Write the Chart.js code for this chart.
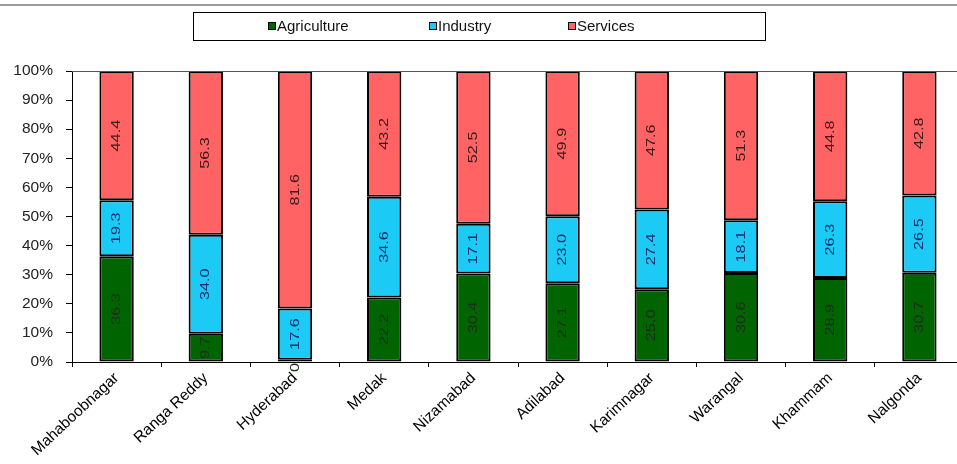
<!DOCTYPE html>
<html>
<head>
<meta charset="utf-8">
<script src="https://cdn.jsdelivr.net/npm/chart.js@4"></script>
<style>
  body { margin: 0; background: #fff; overflow: hidden; }
  #wrap { width: 957px; height: 464px; overflow: hidden; }
</style>
</head>
<body>
<div id="wrap"><canvas id="myChart" width="964" height="464"></canvas></div>
<script>
const districts = ['Mahaboobnagar', 'Ranga Reddy', 'Hyderabad', 'Medak', 'Nizamabad',
                   'Adilabad', 'Karimnagar', 'Warangal', 'Khammam', 'Nalgonda'];
const agriculture = [36.3, 9.7, 0.8, 22.2, 30.4, 27.1, 25.0, 30.6, 28.9, 30.7];
const industry = [19.3, 34.0, 17.6, 34.6, 17.1, 23.0, 27.4, 18.1, 26.3, 26.5];
const services = [44.4, 56.3, 81.6, 43.2, 52.5, 49.9, 47.6, 51.3, 44.8, 42.8];
const yTicks = [0, 10, 20, 30, 40, 50, 60, 70, 80, 90, 100];

const labelColors = ['#1d2e1d', '#10306e', '#3a1a1a'];

// values written sideways inside each segment; a label never spills
// upward into the segment stacked above it
const barLabels = {
    id: 'barLabels',
    afterDatasetsDraw(chart) {
        const ctx = chart.ctx;
        ctx.save();
        ctx.font = '13px Arial';
        ctx.textAlign = 'center';
        ctx.textBaseline = 'middle';
        chart.data.datasets.forEach((ds, i) => {
            const meta = chart.getDatasetMeta(i);
            meta.data.forEach((bar, j) => {
                const top = Math.min(bar.y, bar.base);
                ctx.save();
                ctx.beginPath();
                ctx.rect(bar.x - 30, top, 60, chart.height - top);
                ctx.clip();
                ctx.translate(bar.x, (bar.y + bar.base) / 2);
                ctx.rotate(-Math.PI / 2);
                ctx.scale(1.25, 1);
                ctx.fillStyle = labelColors[i];
                ctx.fillText(ds.data[j].toFixed(1), 0, 0);
                ctx.restore();
            });
        });
        ctx.restore();
    }
};

// boxed legend spread out like the original, plus frame lines
const boxLegend = {
    id: 'boxLegend',
    afterDraw(chart) {
        const ctx = chart.ctx;
        const area = chart.chartArea;
        ctx.save();
        ctx.strokeStyle = '#9a9a9a';
        ctx.lineWidth = 2;
        ctx.beginPath();
        ctx.moveTo(0, 5);
        ctx.lineTo(chart.width, 5);
        ctx.stroke();

        ctx.strokeStyle = '#555';
        ctx.lineWidth = 1;
        ctx.beginPath();
        ctx.moveTo(area.left, area.top + 0.5);
        ctx.lineTo(chart.width, area.top + 0.5);
        ctx.stroke();

        ctx.strokeStyle = '#000';
        ctx.strokeRect(193.5, 12.5, 572, 28);
        const xs = [268, 429, 568];
        ctx.font = '15px Arial';
        ctx.textBaseline = 'middle';
        ctx.textAlign = 'left';
        chart.data.datasets.forEach((ds, i) => {
            ctx.fillStyle = ds.backgroundColor;
            ctx.fillRect(xs[i], 22, 8, 8);
            ctx.strokeRect(xs[i] + 0.5, 22.5, 7, 7);
            ctx.fillStyle = '#111';
            ctx.fillText(ds.label, xs[i] + 9, 26.5);
        });
        ctx.restore();
    }
};

const ctx = document.getElementById('myChart').getContext('2d');
window.myChart = new Chart(ctx, {
    type: 'bar',
    data: {
        labels: districts,
        datasets: [{
            label: 'Agriculture',
            data: agriculture,
            backgroundColor: '#006400',
        }, {
            label: 'Industry',
            data: industry,
            backgroundColor: '#1ccbf5',
        }, {
            label: 'Services',
            data: services,
            backgroundColor: '#ff6363',
        }].map(d => Object.assign(d, {
            borderColor: '#000',
            borderWidth: 2,
            borderSkipped: false,
            barPercentage: 0.385,
            categoryPercentage: 1.0
        }))
    },
    options: {
        responsive: false,
        animation: false,
        devicePixelRatio: 1,
        layout: { padding: { top: 71, left: 0, right: 0, bottom: 0 } },
        plugins: {
            legend: { display: false },
            tooltip: { enabled: false }
        },
        scales: {
            x: {
                stacked: true,
                afterFit: s => { s.height = 102; },
                grid: {
                    offset: true,
                    color: 'rgba(0,0,0,0)',
                    tickColor: '#000',
                    tickLength: 5
                },
                border: { color: '#000', width: 1 },
                ticks: {
                    color: '#000',
                    font: { family: 'Arial', size: 15.5 },
                    minRotation: 43,
                    maxRotation: 43,
                    autoSkip: false,
                    padding: 2
                }
            },
            y: {
                stacked: true,
                min: 0,
                max: 100,
                afterFit: s => { s.width = 72; },
                afterBuildTicks: s => { s.ticks = yTicks.map(v => ({ value: v })); },
                grid: {
                    color: 'rgba(0,0,0,0)',
                    tickColor: '#000',
                    tickLength: 6
                },
                border: { color: '#000', width: 1 },
                ticks: {
                    color: '#222',
                    font: { family: 'Arial', size: 15.5 },
                    padding: 13,
                    callback: v => v + '%'
                }
            }
        }
    },
    plugins: [barLabels, boxLegend]
});
</script>
</body>
</html>
